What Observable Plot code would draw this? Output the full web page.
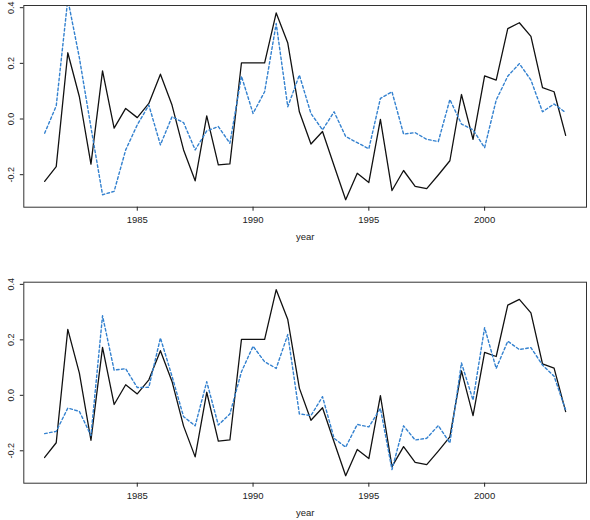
<!DOCTYPE html>
<html>
<head>
<meta charset="utf-8">
<script src="https://cdn.jsdelivr.net/npm/d3@7"></script>
<script src="https://cdn.jsdelivr.net/npm/@observablehq/plot@0.6"></script>
<style>
  html, body { margin: 0; padding: 0; background: #fff; }
  #chart svg { display: block; }
</style>
</head>
<body>
<div id="chart"></div>
<script>
// Half-yearly series, 1981.0 to 2003.5
const years = d3.range(1981, 2004, 0.5);

// Observed series (solid black, same in both panels)
const observed = [-0.224, -0.171, 0.238, 0.080, -0.162, 0.173, -0.033, 0.038, 0.005, 0.056,
  0.161, 0.050, -0.111, -0.222, 0.011, -0.165, -0.161, 0.202, 0.202, 0.202,
  0.381, 0.273, 0.026, -0.090, -0.045, -0.168, -0.290, -0.195, -0.228, -0.001,
  -0.257, -0.185, -0.242, -0.250, -0.201, -0.150, 0.088, -0.073, 0.155, 0.140,
  0.325, 0.346, 0.297, 0.113, 0.098, -0.059];

// Fitted series, upper panel (dashed blue)
const fitTop = [-0.051, 0.047, 0.430, 0.220, -0.030, -0.272, -0.260, -0.111, -0.021, 0.050,
  -0.093, 0.008, -0.013, -0.111, -0.043, -0.027, -0.087, 0.154, 0.020, 0.098,
  0.343, 0.044, 0.158, 0.020, -0.039, 0.026, -0.063, -0.085, -0.107, 0.074,
  0.098, -0.054, -0.049, -0.073, -0.081, 0.070, -0.018, -0.039, -0.103, 0.068,
  0.154, 0.199, 0.140, 0.026, 0.054, 0.023];

// Fitted series, lower panel (dashed blue)
const fitBottom = [-0.138, -0.130, -0.046, -0.058, -0.145, 0.287, 0.091, 0.096, 0.028, 0.029,
  0.207, 0.069, -0.077, -0.110, 0.049, -0.107, -0.067, 0.085, 0.177, 0.121,
  0.097, 0.219, -0.067, -0.073, -0.005, -0.155, -0.187, -0.105, -0.114, -0.047,
  -0.268, -0.110, -0.161, -0.155, -0.109, -0.172, 0.117, -0.017, 0.244, 0.097,
  0.195, 0.165, 0.172, 0.109, 0.069, -0.053];

const xTicks = [1985, 1990, 1995, 2000];
const yTicks = [-0.2, 0.0, 0.2, 0.4];

// Axis ranges padded by 4% on each side of the observed data
function padded([lo, hi]) {
  const d = (hi - lo) * 0.04;
  return [lo - d, hi + d];
}
const xDomain = padded(d3.extent(years));
const yDomain = padded(d3.extent(observed));

function panel(fit, {height, marginTop, marginBottom}) {
  const rows = years.map((year, i) => ({year, obs: observed[i], fit: fit[i]}));
  return Plot.plot({
    width: 590,
    height,
    marginLeft: 23.3,
    marginRight: 4,
    marginTop,
    marginBottom,
    style: {
      fontFamily: "'Liberation Sans', Arial, Helvetica, sans-serif",
      fontSize: "9.5px",
      color: "#222",
      background: "#fff"
    },
    x: {domain: xDomain},
    y: {domain: yDomain},
    marks: [
      Plot.line(rows, {x: "year", y: "obs", stroke: "#111", strokeWidth: 1.3, clip: true}),
      Plot.line(rows, {x: "year", y: "fit", stroke: "#3381cf", strokeWidth: 1.4,
        strokeDasharray: "2.6,2.4", clip: true}),
      Plot.frame({stroke: "#333", strokeWidth: 1}),
      Plot.axisX({
        ticks: xTicks, tickSize: 4, tickPadding: 5,
        tickFormat: d => String(d),
        label: "year", labelAnchor: "center", labelArrow: "none", labelOffset: 33
      }),
      Plot.axisY({
        ticks: yTicks, tickSize: 3.5, tickPadding: 6, tickRotate: -90,
        tickFormat: d => d.toFixed(1), fontSize: 9, label: null
      })
    ]
  });
}

const chart = document.getElementById("chart");
chart.append(panel(fitTop, {height: 260, marginTop: 5, marginBottom: 53.3}));
chart.append(panel(fitBottom, {height: 260, marginTop: 21.7, marginBottom: 37.3}));
</script>
</body>
</html>
